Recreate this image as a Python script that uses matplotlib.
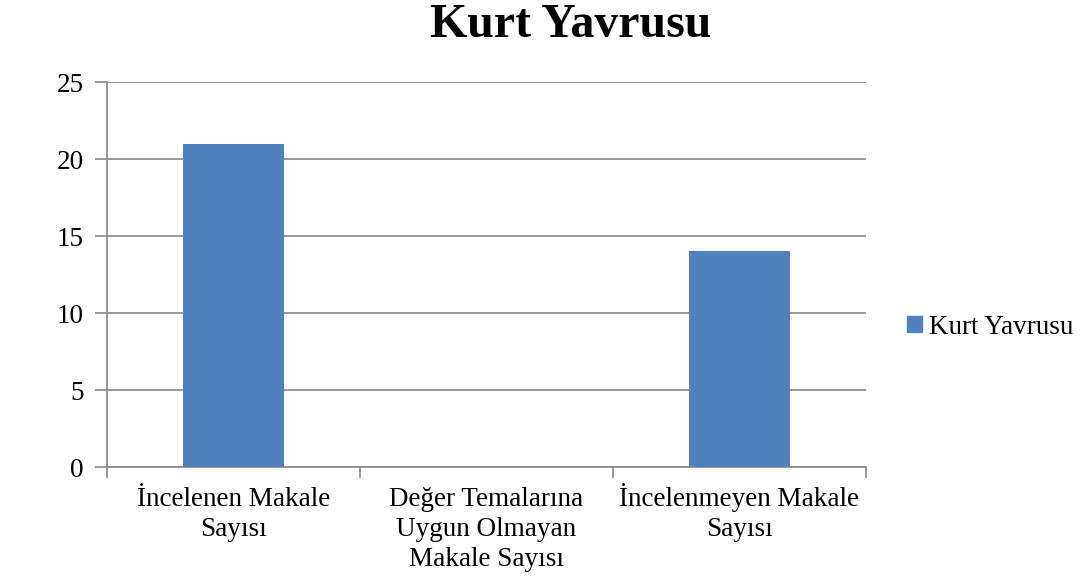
import matplotlib.pyplot as plt
from matplotlib.patches import Patch

categories = ['İncelenen Makale\nSayısı',
              'Değer Temalarına\nUygun Olmayan\nMakale Sayısı',
              'İncelenmeyen Makale\nSayısı']
values = [21, 0, 14]
series_name = 'Kurt Yavrusu'
yticks = [0, 5, 10, 15, 20, 25]

plt.rcParams['font.family'] = ['Liberation Serif', 'DejaVu Serif']

fig = plt.figure(figsize=(10.83, 5.8), dpi=100)
ax = fig.add_axes([0.0988, 0.1948, 0.7008, 0.6638])

bar_color = '#4F81BD'
grid_color = '#878787'
fs = 19.5

x = list(range(len(categories)))
ax.bar(x, values, width=0.4, color=bar_color, zorder=3)

ax.set_xlim(-0.5, len(categories) - 0.5)
ax.set_ylim(0, 25)
ax.set_yticks(yticks)
ax.set_yticklabels([str(v) for v in yticks], fontsize=fs)
ax.yaxis.grid(True, color=grid_color, linewidth=1.2, zorder=0)

# boundary ticks between categories, labels drawn line by line below
ax.set_xticks([i - 0.5 for i in range(len(categories) + 1)])
ax.set_xticklabels([])
ax.tick_params(axis='x', length=8, width=1.2, color=grid_color, direction='out')
ax.tick_params(axis='y', length=9, width=1.2, color=grid_color, direction='out', pad=8)

for i, label in enumerate(categories):
    for k, line in enumerate(label.split('\n')):
        ax.annotate(line, xy=(i, 0), xycoords=('data', 'axes fraction'),
                    xytext=(0, -28.1 - 21.6 * k), textcoords='offset points',
                    ha='center', va='baseline', fontsize=fs, annotation_clip=False)

for s in ['top', 'right']:
    ax.spines[s].set_visible(False)
for s in ['left', 'bottom']:
    ax.spines[s].set_color(grid_color)
    ax.spines[s].set_linewidth(1.2)

fig.text(0.527, 0.936, series_name, ha='center', va='baseline',
         fontsize=34.5, fontweight='bold')

ax.legend(handles=[Patch(color=bar_color, label=series_name)],
          loc='center left', bbox_to_anchor=(1.022, 0.363), frameon=False,
          fontsize=fs, handlelength=0.55, handleheight=0.55, handletextpad=0.25)

fig.savefig('out.png', dpi=100)
